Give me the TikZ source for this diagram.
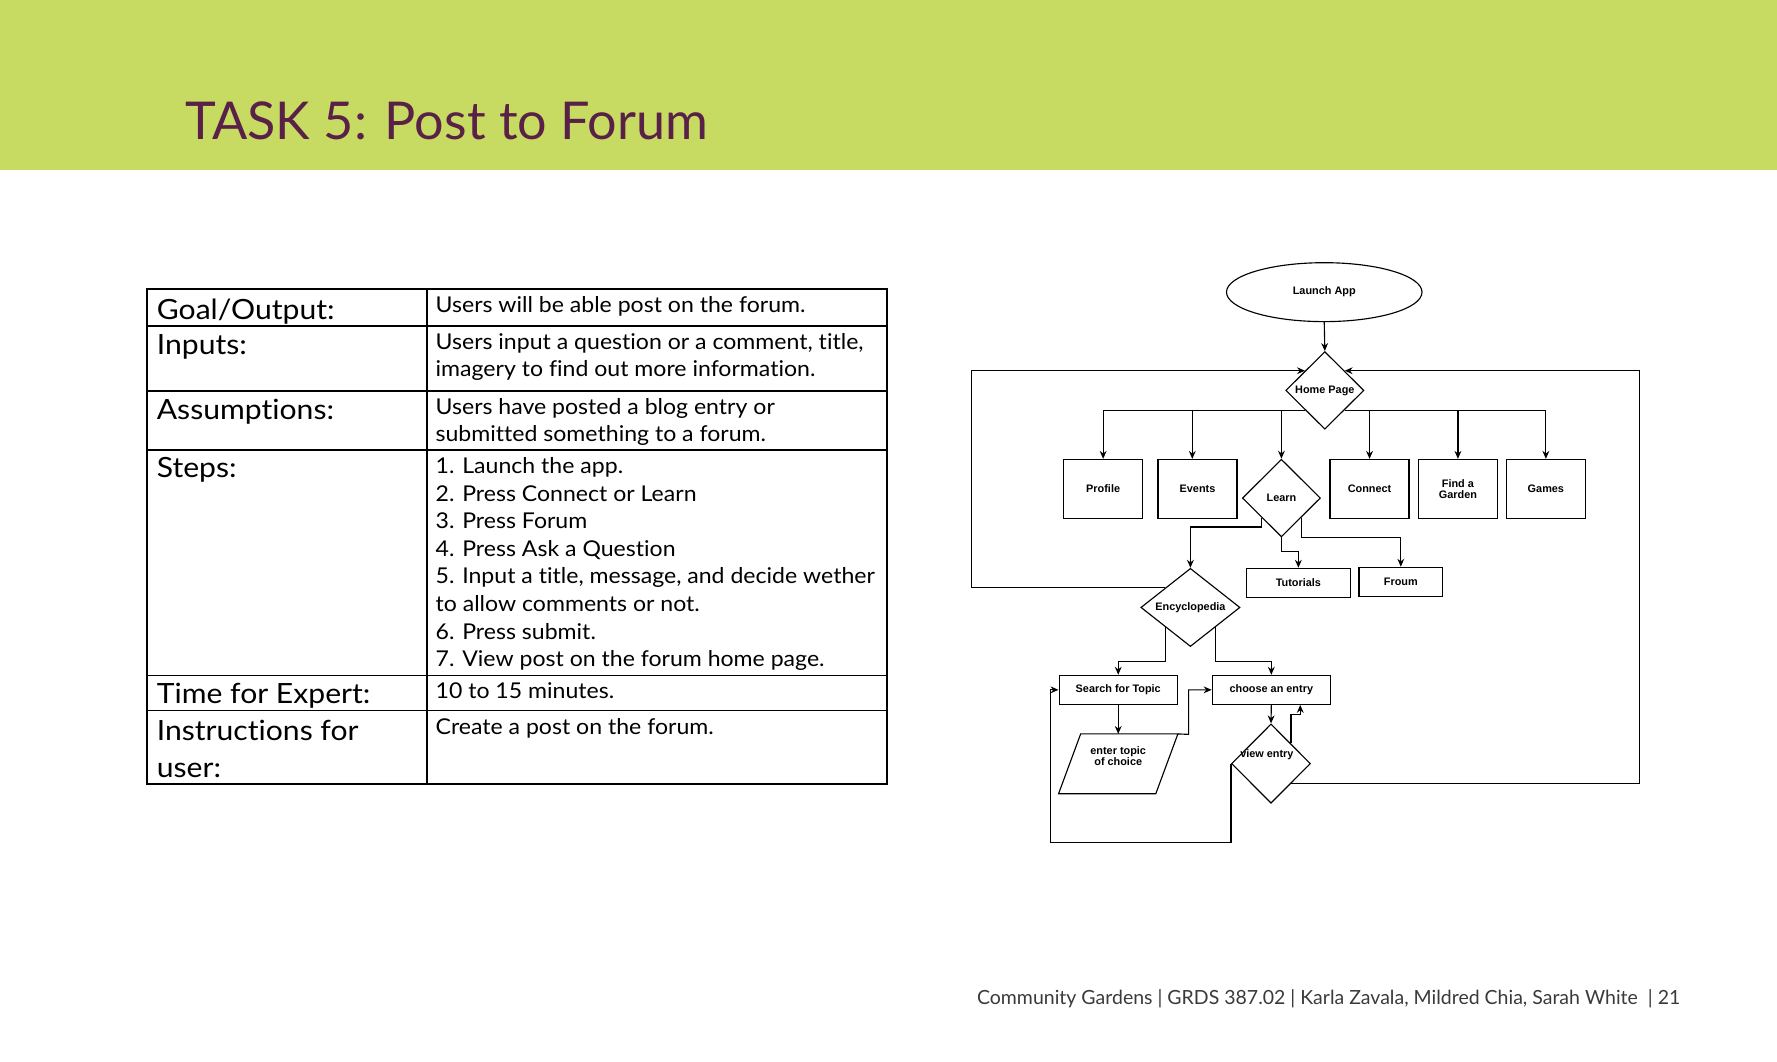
\documentclass[tikz,border=0pt]{standalone}
\usepackage{fontspec}
\setmainfont{Lato}
\newfontfamily\flowfont{Liberation Sans}
\newfontfamily\rightfont{Lato}[FakeStretch=1.06,Ligatures=NoCommon]
\newfontfamily\leftfont{Lato}[FakeStretch=1.08,Ligatures=NoCommon]
\usetikzlibrary{shapes.geometric,arrows.meta}
\definecolor{bargreen}{HTML}{C7DB62}
\definecolor{titlepurple}{HTML}{5A2148}
\definecolor{footgray}{HTML}{3A3A3A}
\tikzset{
  fl/.style={line width=0.5pt},
  arr/.style={fl,-{Stealth[length=3.5pt,width=3pt]}},
  fbox/.style={draw,fl,rectangle,inner sep=0pt,minimum width=34.85pt,minimum height=26pt,align=center,font=\flowfont\bfseries\fontsize{4.8}{6}\selectfont},
  sbox/.style={fbox,minimum height=12.8pt},
  dia/.style={draw,fl,diamond,inner sep=0pt,font=\flowfont\bfseries\fontsize{4.8}{6}\selectfont},
  dlab/.style={font=\flowfont\bfseries\fontsize{4.8}{6}\selectfont,inner sep=0pt},
  lefttxt/.style={anchor=base west,inner sep=0pt,font=\leftfont\fontsize{12.3}{14}\selectfont},
  righttxt/.style={anchor=base west,inner sep=0pt,font=\rightfont\fontsize{9.6}{12.18}\selectfont},
  tline/.style={line width=0.8pt}
}
\begin{document}
\begin{tikzpicture}[x=0.5pt,y=-0.5pt]
\useasboundingbox (0,0) rectangle (1568,937.07);
% header bar
\fill[bargreen] (0,0) rectangle (1568,150);
\node[anchor=base west,inner sep=0pt,text=titlepurple,font=\fontsize{23}{26}\selectfont] (title) at (163,123) {TASK 5: Post to Forum};

% table grid
\draw[tline] (130,255) rectangle (783,692);
\foreach \yy in {288,345,397,596,627} \draw[tline] (130,\yy) -- (783,\yy);
\draw[tline] (377,255) -- (377,692);

% left column
\node[lefttxt] (lgoal) at (138,282) {Goal/Output:};
\node[lefttxt] (linp) at (138,313) {Inputs:};
\node[lefttxt] (lass) at (138,370) {Assumptions:};
\node[lefttxt] (lstep) at (138,421) {Steps:};
\node[lefttxt] (ltime) at (138,621) {Time for Expert:};
\node[lefttxt] (linst1) at (138,653) {Instructions for};
\node[lefttxt] (linst2) at (138,686) {user:};

% right column
\node[righttxt] (rgoal) at (384,276) {Users will be able post on the forum.};
\node[righttxt] (rinp1) at (384,308) {Users input a question or a comment, title,};
\node[righttxt] (rinp2) at (384,332) {imagery to find out more information.};
\node[righttxt] (rass1) at (384,366) {Users have posted a blog entry or};
\node[righttxt] (rass2) at (384,390) {submitted something to a forum.};
\node[righttxt] (s1) at (384,417.7) {1. Launch the app.};
\node[righttxt] (s2) at (384,442.1) {2. Press Connect or Learn};
\node[righttxt] (s3) at (384,466.4) {3. Press Forum};
\node[righttxt] (s4) at (384,490.8) {4. Press Ask a Question};
\node[righttxt] (s5) at (384,515.1) {5. Input a title, message, and decide wether};
\node[righttxt] (s6) at (384,539.5) {to allow comments or not.};
\node[righttxt] (s7) at (384,563.9) {6. Press submit.};
\node[righttxt] (s8) at (384,588.2) {7. View post on the forum home page.};
\node[righttxt] (rtime) at (384,616.2) {10 to 15 minutes.};
\node[righttxt] (rinst) at (384,648.5) {Create a post on the forum.};

% flowchart nodes
\node[draw,fl,ellipse,inner sep=0pt,minimum width=86.25pt,minimum height=26pt,font=\flowfont\bfseries\fontsize{4.8}{6}\selectfont] (launch) at (1168.5,257.8) {Launch App};
\node[dia,minimum width=34.5pt,minimum height=34.25pt,label={[dlab]center:Home Page}] (home) at (1169,344.5) {};
\node[fbox] (profile) at (973.4,431.4) {Profile};
\node[fbox] (events) at (1056.65,431.4) {Events};
\node[dia,minimum width=34.45pt,minimum height=34.25pt,label={[dlab]center:Learn}] (learn) at (1130.7,439.5) {};
\node[fbox] (connect) at (1208.45,431.4) {Connect};
\node[fbox] (find) at (1286.45,431.4) {Find a\\[-1.2pt]Garden};
\node[fbox] (games) at (1364.05,431.4) {Games};
\node[sbox,minimum width=46.05pt,minimum height=12.75pt] (tut) at (1145.65,514.25) {Tutorials};
\node[sbox,minimum width=36.85pt,minimum height=12.95pt] (froum) at (1236.05,513.55) {Froum};
\node[dia,minimum width=43.75pt,minimum height=34.5pt,label={[dlab]center:Encyclopedia}] (encyc) at (1050.4,536) {};
\node[sbox,minimum width=52.2pt] (search) at (986.7,608.7) {Search for Topic};
\node[sbox,minimum width=52.2pt] (choose) at (1121.8,608.7) {choose an entry};
\node[rectangle,inner sep=0pt,minimum width=52.25pt,minimum height=26pt,
  label={[dlab,align=center,yshift=3.5pt]center:enter topic\\[-1pt]of choice}] (enter) at (986.7,674) {};
\draw[fl] ([xshift=9.75pt]enter.north west) -- (enter.north east) -- ([xshift=-9.75pt]enter.south east) -- (enter.south west) -- cycle;
\node[dia,minimum width=34.85pt,minimum height=35pt,label={[dlab,xshift=-1.8pt,yshift=4pt]center:view entry}] (view) at (1121.5,673.8) {};

% helper coordinates
\coordinate (L) at (857,0);
\coordinate (R) at (1446.6,0);
\coordinate (p1) at (1048.8,648);
\coordinate (c2) at (1147.3,630.3);
\coordinate (c3) at (927,743.3);

% connectors
\draw[arr] (launch.south) -- (home.north);
\draw[arr] (home.south west) -| (profile.north);
\draw[arr] (home.south west) -| ([xshift=-2.3pt]events.north);
\draw[arr] (home.south west) -| (learn.north);
\draw[arr] (home.south east) -| (connect.north);
\draw[arr] (home.south east) -| (find.north);
\draw[arr] (home.south east) -| (games.north);

\draw[arr] (learn.south west) -- (learn.south west |- 0,465) -| (encyc.north);
\draw[arr] (learn.south) -- (learn.south |- 0,487) -| (tut.north);
\draw[arr] (learn.south east) -- (learn.south east |- 0,474) -| (froum.north);

\draw[arr] (encyc.south west) -- (encyc.south west |- 0,583.5) -| (search.north);
\draw[arr] (encyc.south east) -- (encyc.south east |- 0,583.5) -| (choose.north);

\draw[arr] (search.south) -- (enter.north);
\draw[arr] (enter.north east) -- (p1) |- (choose.west);
\draw[arr] (choose.south) -- (view.north);
\draw[arr] (view.north east) |- (c2) -- (c2 |- choose.south);
\draw[arr] (view.west) -- (view.west |- c3) -- (c3) |- (search.west);

\draw[arr] (encyc.north west) -- (encyc.north west -| L) -- (home.north west -| L) -- (home.north west);
\draw[arr] (view.south east) -- (view.south east -| R) -- (home.north east -| R) -- (home.north east);

% footer
\node[anchor=base east,inner sep=0pt,text=footgray,font=\fontsize{8.6}{10}\selectfont] (footer) at (1483,886) {Community Gardens | GRDS 387.02 | Karla Zavala, Mildred Chia, Sarah White~~| 21};
\end{tikzpicture}
\end{document}
